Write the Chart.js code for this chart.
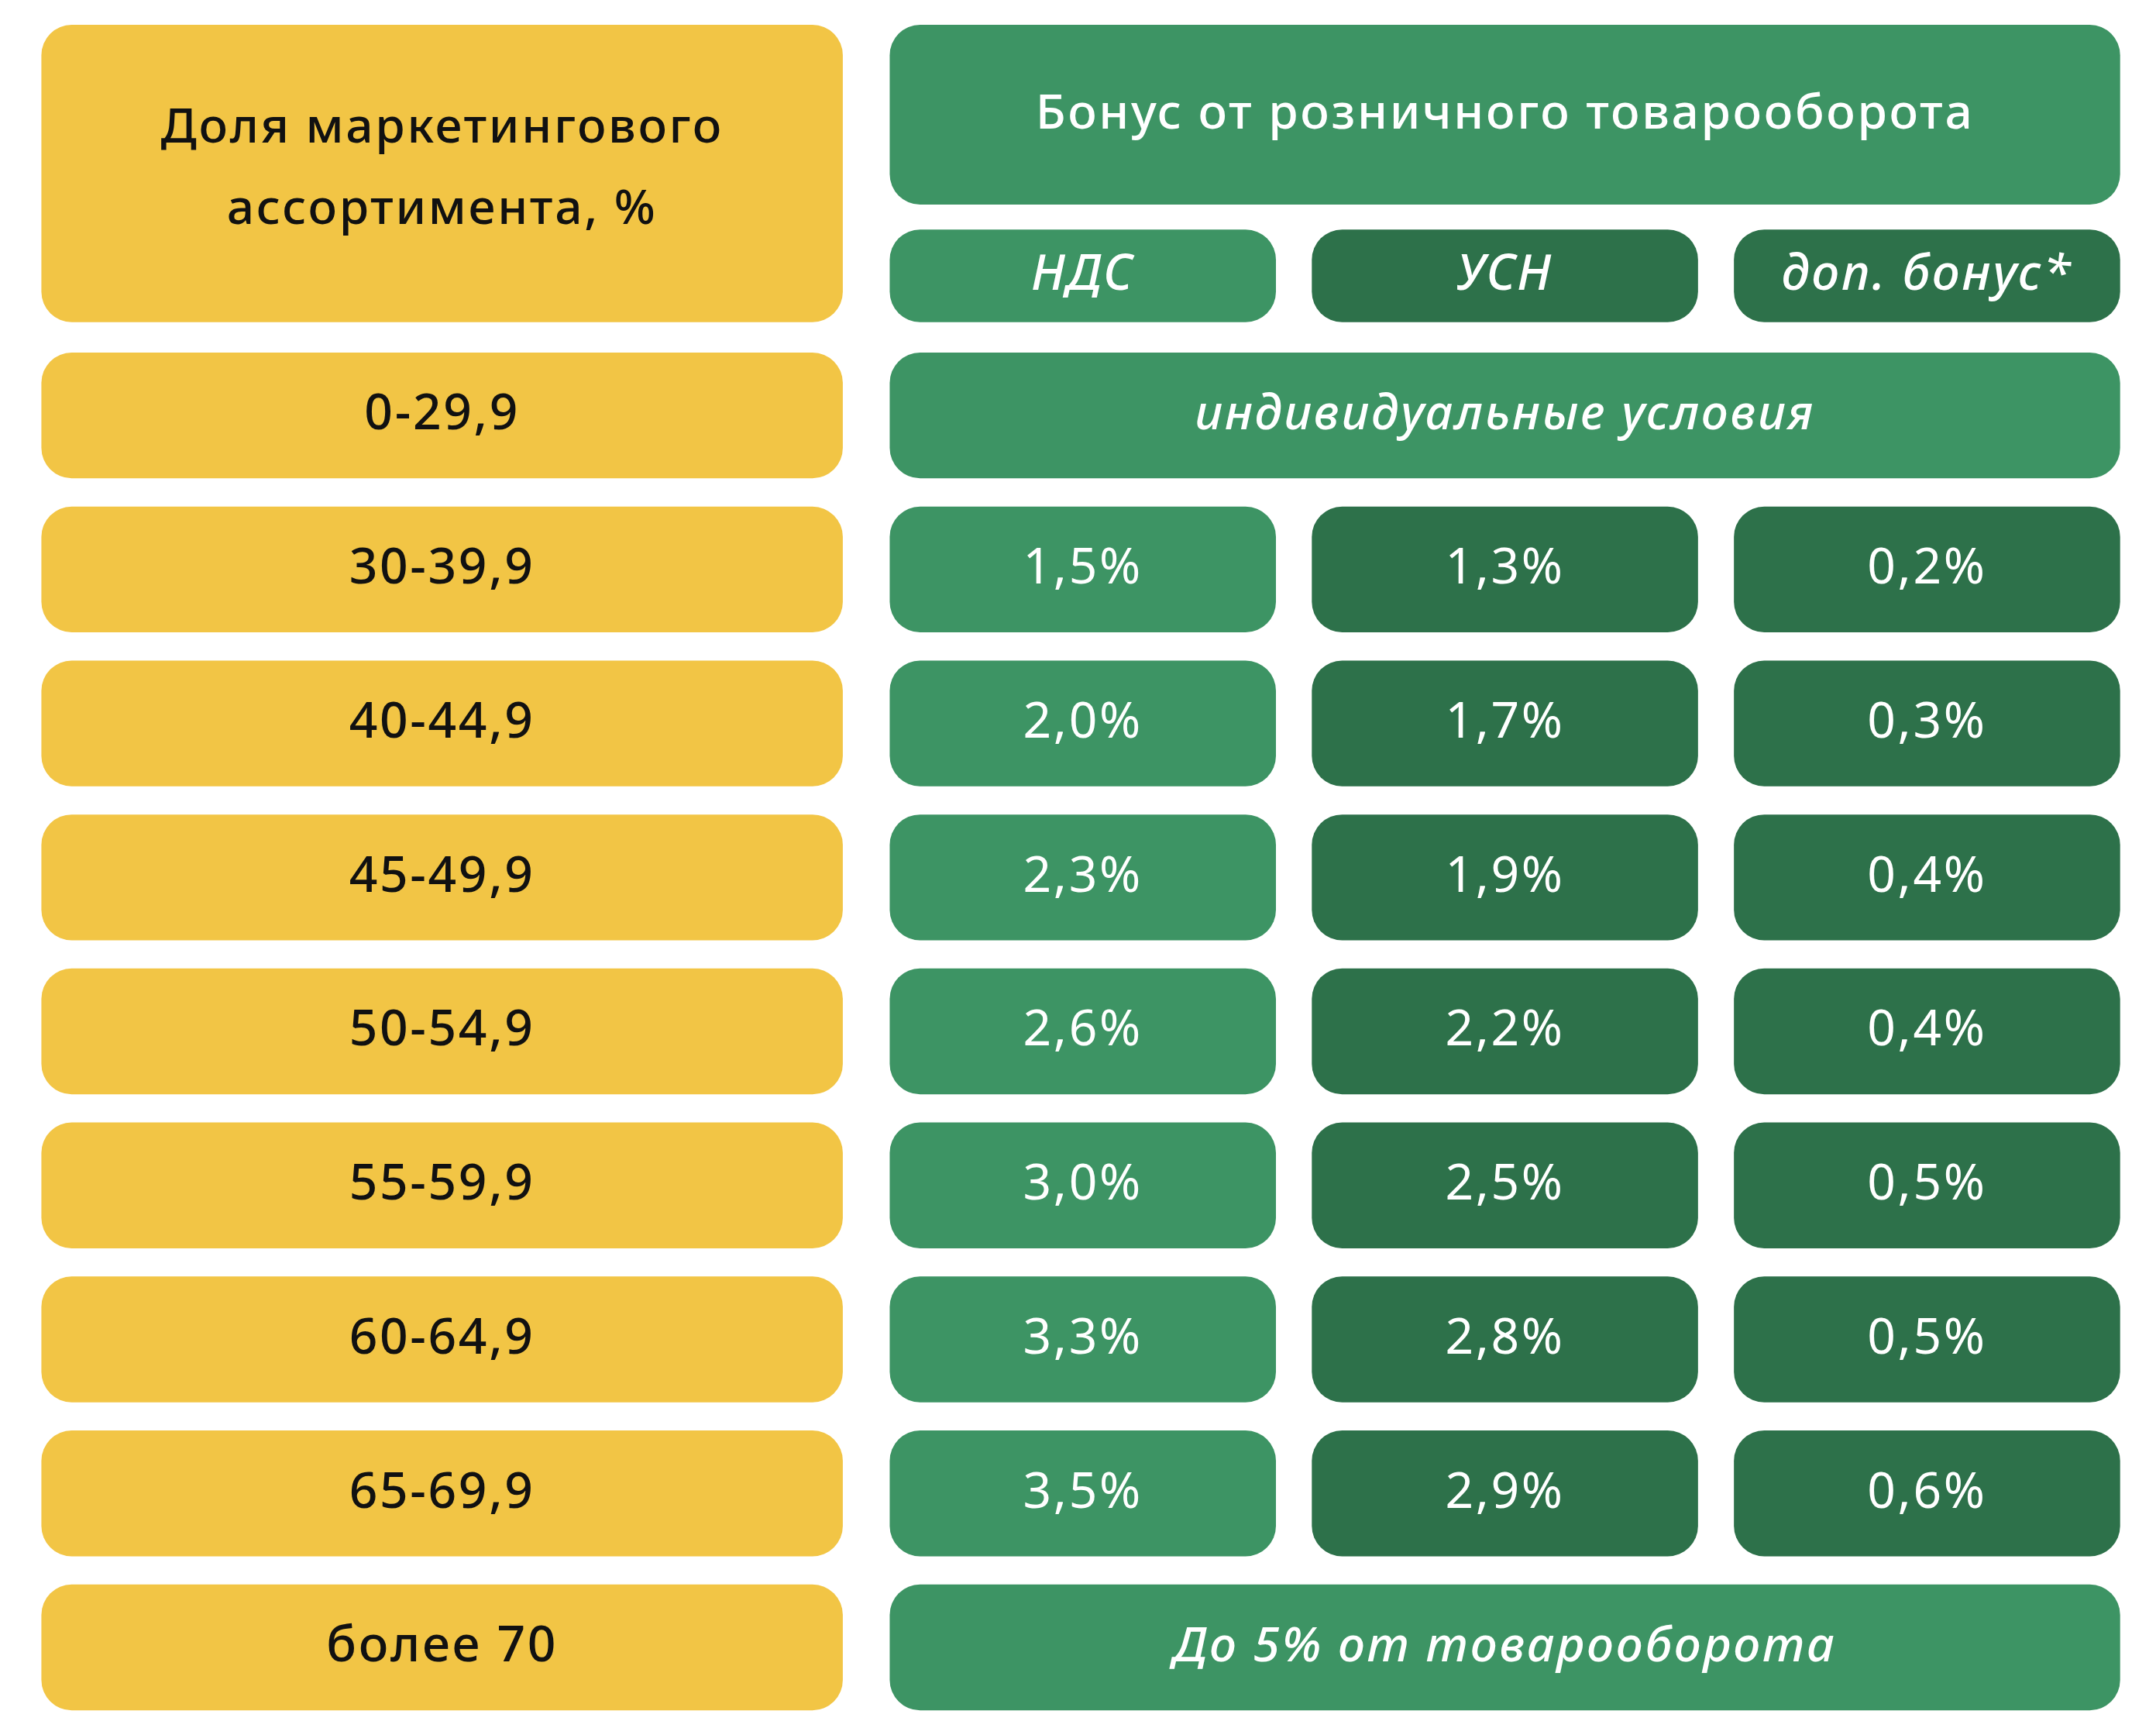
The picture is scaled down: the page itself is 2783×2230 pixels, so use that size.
<!DOCTYPE html>
<html><head><meta charset="utf-8">
<script src="https://cdn.jsdelivr.net/npm/chart.js@4/dist/chart.umd.min.js"></script>
<style>html,body{margin:0;padding:0;background:#fff;overflow:hidden}canvas{display:block}</style>
</head><body>
<canvas id="c" width="2783" height="2230"></canvas>
<script>
/* ——— data ——— */
const shares   = ['0-29,9','30-39,9','40-44,9','45-49,9','50-54,9','55-59,9','60-64,9','65-69,9','более 70'];
const nds      = [null,'1,5%','2,0%','2,3%','2,6%','3,0%','3,3%','3,5%',null];
const usn      = [null,'1,3%','1,7%','1,9%','2,2%','2,5%','2,8%','2,9%',null];
const dopBonus = [null,'0,2%','0,3%','0,4%','0,4%','0,5%','0,5%','0,6%',null];
const merged   = {0:'индивидуальные условия', 8:'До 5% от товарооборота'};
const headLeft = ['Доля маркетингового','ассортимента, %'];
const headTop  = 'Бонус от розничного товарооборота';
const subHeads = ['НДС','УСН','доп. бонус*'];

/* ——— layout (in reference units 1563 x 1250) ——— */
const W = 1563, H = 1250;
const YEL = '#F2C545', GRN = '#3D9464', DARK = '#2D714A';
const COLS = [[645,925],[951,1231],[1257,1537]];
const LEFT = [30,611], RIGHT = [645,1537];
const ROW0 = 255, PITCH = 111.4, ROWH = 91, RAD = 22;
const FONT = '"Noto Sans", sans-serif';

const cells = [];
cells.push({x:LEFT, y:[18,233], fill:YEL, lines:headLeft, color:'#111', size:35, weight:'500', ys:[93,152]});
cells.push({x:RIGHT, y:[18,148], fill:GRN, lines:[headTop], color:'#fff', size:35, weight:'500'});
subHeads.forEach((t,i)=>cells.push({x:COLS[i], y:[166,233], fill:i?DARK:GRN, lines:[t], color:'#fff', size:36, weight:'italic 500'}));
shares.forEach((s,r)=>{
    const y0 = ROW0 + r*PITCH, y = [y0, y0+ROWH];
    cells.push({x:LEFT, y, fill:YEL, lines:[s], color:'#111', size:36, weight:'500'});
    if (merged[r]) {
        cells.push({x:RIGHT, y, fill:GRN, lines:[merged[r]], color:'#fff', size:35, weight:'italic 500'});
    } else {
        [nds[r],usn[r],dopBonus[r]].forEach((v,i)=>cells.push({x:COLS[i], y, fill:i?DARK:GRN, lines:[v], color:'#fff', size:36, weight:'400'}));
    }
});

/* ——— plugin draws cells through the scales ——— */
const tablePlugin = {
    id:'table',
    beforeDatasetsDraw(chart){
        const {ctx, scales:{x, y}} = chart;
        const k = chart.width / W;
        cells.forEach(c=>{
            const x0 = x.getPixelForValue(c.x[0]), x1 = x.getPixelForValue(c.x[1]);
            const y0 = y.getPixelForValue(c.y[0]), y1 = y.getPixelForValue(c.y[1]);
            ctx.fillStyle = c.fill;
            ctx.beginPath(); ctx.roundRect(x0, y0, x1-x0, y1-y0, RAD*k); ctx.fill();
            ctx.fillStyle = c.color;
            ctx.font = `${c.weight} ${c.size*k}px ${FONT}`;
            ctx.letterSpacing = `${1.5*k}px`;
            ctx.textAlign = 'center'; ctx.textBaseline = 'middle';
            c.lines.forEach((t,i)=>{
                const ty = c.ys ? y.getPixelForValue(c.ys[i]) : (y0+y1)/2;
                ctx.fillText(t, (x0+x1)/2, ty);
            });
        });
    }
};

new Chart(document.getElementById('c'), {
    type:'scatter',
    data:{datasets:[{data:[]}]},
    options:{
        responsive:false, animation:false, devicePixelRatio:1,
        layout:{padding:0},
        plugins:{legend:{display:false}, tooltip:{enabled:false}},
        scales:{
            x:{type:'linear', min:0, max:W, display:false},
            y:{type:'linear', min:0, max:H, reverse:true, display:false}
        }
    },
    plugins:[tablePlugin]
});
</script>
</body></html>
